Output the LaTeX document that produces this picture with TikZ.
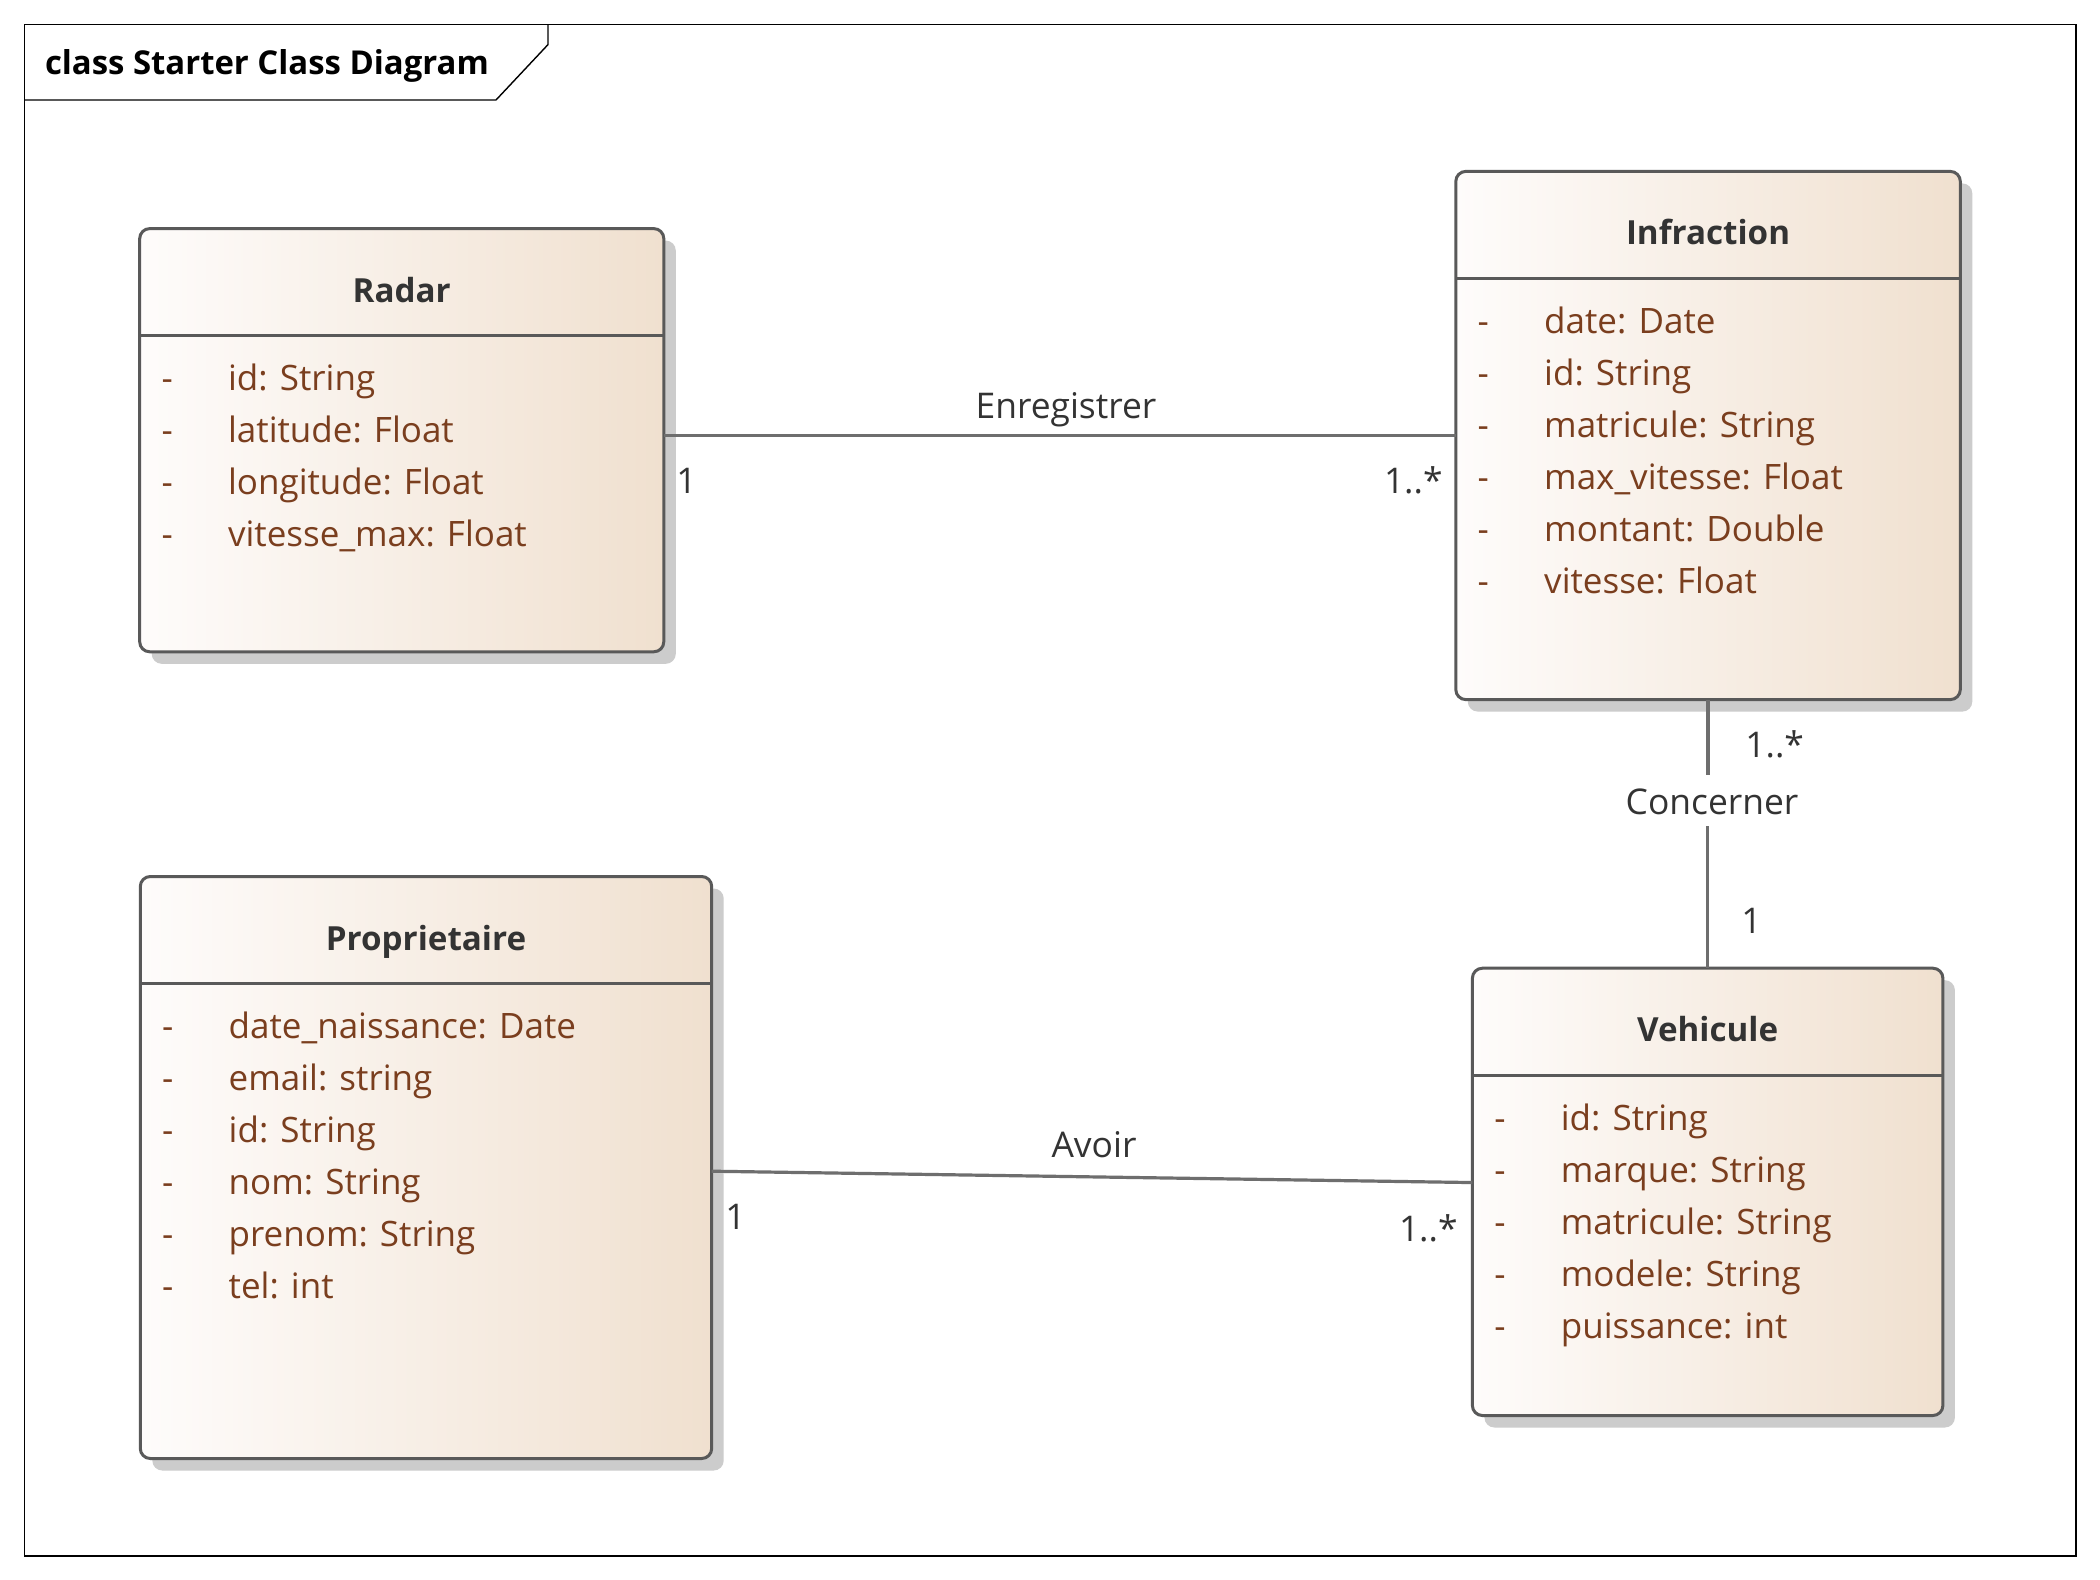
\documentclass[tikz,border=0pt]{standalone}
\usepackage{fontspec}
\setmainfont{Open Sans}
\usetikzlibrary{shadows,calc}
\definecolor{attrc}{HTML}{7A3E1E}
\definecolor{namec}{HTML}{333333}
\definecolor{boxline}{HTML}{595959}
\definecolor{conn}{HTML}{6E6E6E}
\definecolor{fillL}{HTML}{FEFCFB}
\definecolor{fillR}{HTML}{F0E0CF}
\definecolor{shadec}{HTML}{CCCCCC}
\tikzset{
  classbox/.style={draw=boxline, line width=1.5pt, rounded corners=5pt,
    left color=fillL, right color=fillR,
    drop shadow={shadow xshift=6pt, shadow yshift=-6pt, fill=shadec, opacity=1},
    inner sep=0pt, outer sep=0pt},
  boxborder/.style={draw=boxline, line width=1.5pt},
  classname/.style={inner sep=0pt, text=namec, font=\bfseries\fontsize{16.6pt}{20pt}\selectfont},
  attr/.style={inner sep=0pt, text=attrc, font=\fontsize{17.5pt}{21pt}\selectfont},
  lbl/.style={inner sep=0pt, text=namec, font=\fontsize{17.7pt}{21pt}\selectfont},
  connline/.style={draw=conn, line width=1.6pt},
  framestyle/.style={draw=black, line width=0.7pt}
}
\newcommand\umlclass[7]{%
  \node[classbox, minimum width={(#4-#2)*0.5pt}, minimum height={(#5-#3)*0.5pt}] (#1) at ({(#2+#4)/2},{(#3+#5)/2}) {};
  \draw[boxborder] ($(#1.north west)+(0,107)$) -- ($(#1.north east)+(0,107)$);
  \node[classname, anchor=base] (#1-name) at ($(#1.north)+(0,73.5)$) {#6};
  \foreach \a [count=\i] in {#7} {
    \node[attr, anchor=base west] (#1-d\i) at ($(#1.north west)+(21.5,{107+55+52*(\i-1)})$) {-};
    \node[attr, anchor=base west] (#1-a\i) at ($(#1.north west)+(88,{107+55+52*(\i-1)})$) {\a};
  }%
}
\begin{document}
\begin{tikzpicture}[x=0.5pt, y=-0.5pt]
\useasboundingbox (0,0) rectangle (2100,1580);
\fill[white] (0,0) rectangle (2100,1580);
% frame
\draw[framestyle] (24.5,24.5) rectangle (2076,1556);
\draw[framestyle] (24.5,100) -- (496,100) -- (548,44.6) -- (548,24.5);
\node[anchor=base west, inner sep=0pt, font=\bfseries\fontsize{16.45pt}{20pt}\selectfont] (title) at (44.6,74) {class Starter Class Diagram};

% classes
\umlclass{radar}{139.7}{228.6}{663.8}{651.8}{Radar}{id: String, latitude: Float, longitude: Float, vitesse\_max: Float}
\umlclass{infraction}{1455.8}{171.4}{1960.3}{699.6}{Infraction}{date: Date, id: String, matricule: String, max\_vitesse: Float, montant: Double, vitesse: Float}
\umlclass{proprietaire}{140.3}{876.5}{711.7}{1458.5}{Proprietaire}{date\_naissance: Date, email: string, id: String, nom: String, prenom: String, tel: int}
\umlclass{vehicule}{1472.4}{968.2}{1942.9}{1415.5}{Vehicule}{id: String, marque: String, matricule: String, modele: String, puissance: int}

% Enregistrer
\draw[connline] (infraction.west) -- (infraction.west -| radar.east);
\node[lbl, anchor=base] (enr) at (1066,418.3) {Enregistrer};
\node[lbl, anchor=base west] (enr-m1) at (676,493) {1};
\node[lbl, anchor=base east] (enr-m2) at (1443,493) {1..*};

% Concerner
\node[lbl, anchor=base, text height=19.5pt, text depth=6pt] (conc) at (1712,814) {Concerner};
\draw[connline] (infraction.south) -- (infraction.south |- conc.north);
\draw[connline] (vehicule.north |- conc.south) -- (vehicule.north);
\node[lbl, anchor=base west] (conc-m1) at (1745,757) {1..*};
\node[lbl, anchor=base west] (conc-m2) at (1741,933) {1};

% Avoir
\draw[connline] ($(proprietaire.east)+(0,3.7)$) -- ($(vehicule.west)+(0,-9.3)$);
\node[lbl, anchor=base] (avoir) at (1094,1157) {Avoir};
\node[lbl, anchor=base west] (avoir-m1) at (725,1229) {1};
\node[lbl, anchor=base east] (avoir-m2) at (1458,1241) {1..*};
\end{tikzpicture}
\end{document}
